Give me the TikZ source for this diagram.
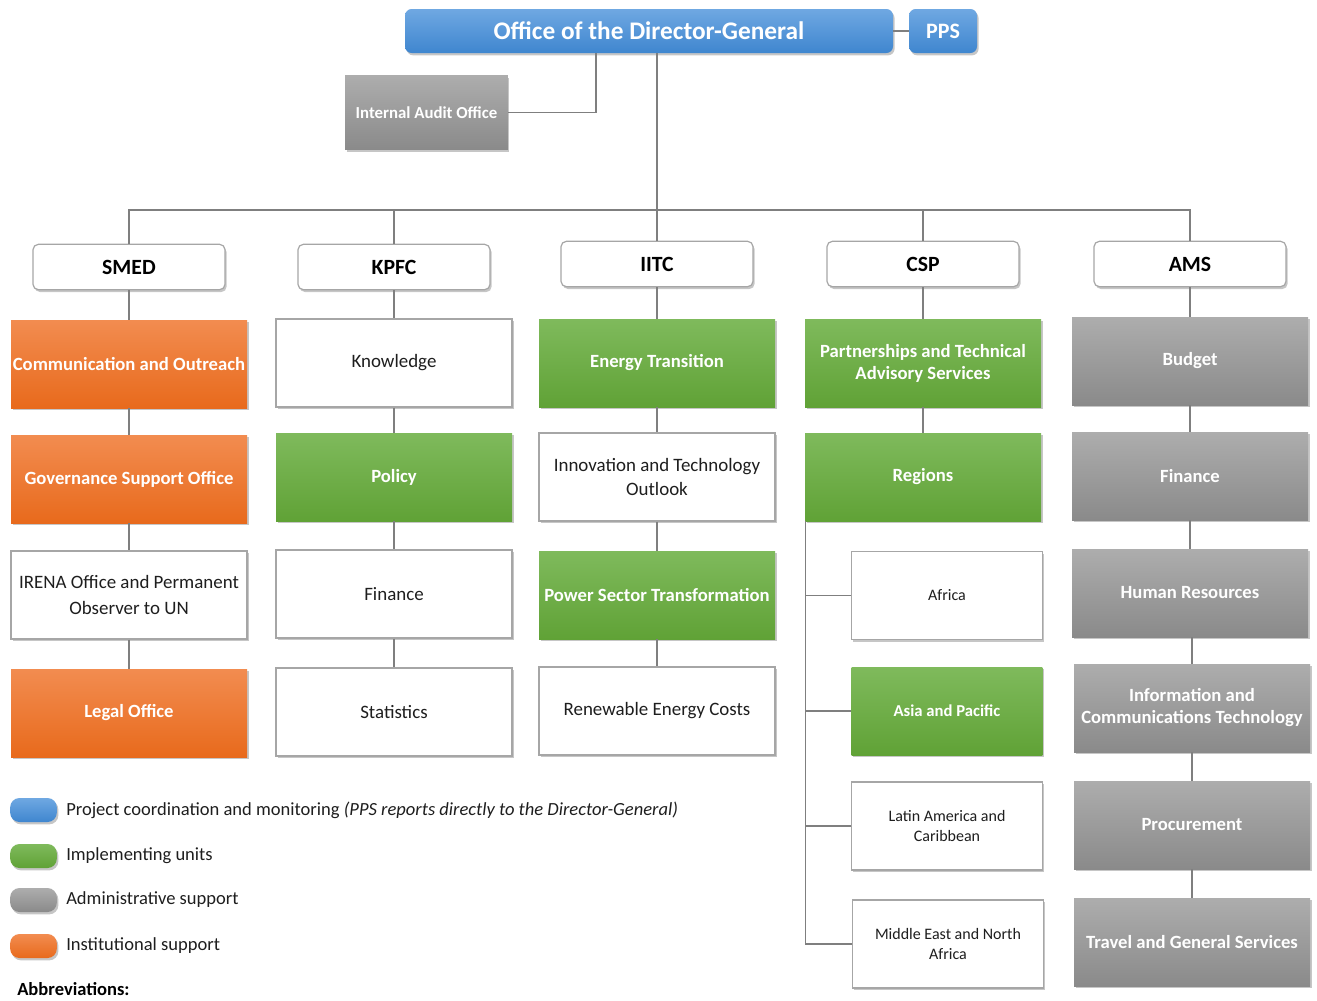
\documentclass[tikz,border=0pt]{standalone}
\usepackage{fontspec}
\setmainfont{Carlito}
\usetikzlibrary{shadows, positioning}

\definecolor{bluetop}{HTML}{6FA8E2}
\definecolor{bluebot}{HTML}{3F86CF}
\definecolor{greentop}{HTML}{7FBA5C}
\definecolor{greenbot}{HTML}{60A236}
\definecolor{graytop}{HTML}{ADADAD}
\definecolor{graybot}{HTML}{8A8A8A}
\definecolor{orangetop}{HTML}{F28C50}
\definecolor{orangebot}{HTML}{E86A1C}
\definecolor{linegray}{HTML}{7F7F7F}
\definecolor{edgegray}{HTML}{A6A6A6}
\definecolor{inkgray}{HTML}{1E1E1E}

\begin{document}
\begin{tikzpicture}
[
	x=0.75pt, y=-0.75pt,
	conn/.style={draw=linegray, line width=0.8pt},
	shade/.style={drop shadow={opacity=0.45, shadow xshift=1.2pt, shadow yshift=-1.8pt}},
	unit/.style={rectangle, shade, minimum width=177pt, minimum height=66pt, inner sep=1pt, align=center},
	orangebox/.style={unit, top color=orangetop, bottom color=orangebot, text=white, font=\fontsize{14}{16.5}\selectfont\bfseries},
	greenbox/.style={unit, top color=greentop, bottom color=greenbot, text=white, font=\fontsize{14}{16.5}\selectfont\bfseries},
	graybox/.style={unit, top color=graytop, bottom color=graybot, text=white, font=\fontsize{14}{16.5}\selectfont\bfseries},
	plainbox/.style={unit, fill=white, draw=edgegray, line width=0.9pt, text=inkgray, font=\fontsize{14.2}{17.5}\selectfont},
	subplain/.style={plainbox, minimum width=143pt, font=\fontsize{12}{15}\selectfont},
	subgreen/.style={greenbox, minimum width=143pt, font=\fontsize{12.5}{15}\selectfont\bfseries},
	hdr/.style={rectangle, rounded corners=4pt, shade, fill=white, draw=edgegray, line width=0.9pt, minimum width=144pt, minimum height=34pt, text=black, font=\fontsize{16.3}{18}\selectfont\bfseries},
	topbox/.style={rectangle, rounded corners=5pt, shade, top color=bluetop, bottom color=bluebot, minimum height=33pt, text=white, font=\fontsize{19}{21}\selectfont\bfseries},
	swatch/.style={rectangle, rounded corners=7pt, shade, minimum width=35pt, minimum height=18pt, inner sep=0pt},
	keytext/.style={anchor=west, inner sep=0pt, text=inkgray, font=\fontsize{13.9}{16}\selectfont}
]

\useasboundingbox (0,0) rectangle (1317,1000);

% top of the chart
\node[topbox, minimum width=366pt] (dg) at (649,31) {Office of the Director-General};
\node[topbox, minimum width=51pt, font=\fontsize{16.5}{18}\selectfont\bfseries] (pps) at (943,31) {PPS};
\node[graybox, minimum width=122pt, minimum height=56pt, font=\fontsize{12.6}{14}\selectfont\bfseries] (iao) at (426.5,112.5) {Internal Audit Office};

% divisions
\node[hdr] (smed) at (129,267) {SMED};
\node[hdr] (kpfc) at (394,267) {KPFC};
\node[hdr] (iitc) at (657,264) {IITC};
\node[hdr] (csp)  at (923,264) {CSP};
\node[hdr] (ams)  at (1190,264) {AMS};

% SMED
\node[orangebox] (comm)  at (129,364) {Communication and Outreach};
\node[orangebox] (gov)   at (129,479) {Governance Support Office};
\node[plainbox]  (irena) at (129,595) {IRENA Office and Permanent\\[1.5pt]Observer to UN};
\node[orangebox] (legal) at (129,713) {Legal Office};

% KPFC
\node[plainbox]  (know)   at (394,363) {Knowledge};
\node[greenbox]  (policy) at (394,477) {Policy};
\node[plainbox]  (kfin)   at (394,594) {Finance};
\node[plainbox]  (stats)  at (394,712) {Statistics};

% IITC
\node[greenbox]  (energy) at (657,363) {Energy Transition};
\node[plainbox]  (itech)  at (657,477) {Innovation and Technology\\Outlook};
\node[greenbox]  (power)  at (657,595) {Power Sector Transformation};
\node[plainbox]  (rcost)  at (657,711) {Renewable Energy Costs};

% CSP
\node[greenbox]  (part)    at (923,363) {Partnerships and Technical\\Advisory Services};
\node[greenbox]  (regions) at (923,477) {Regions};
\node[subplain]  (africa)  at (947,595.5) {Africa};
\node[subgreen]  (asia)    at (947,711) {Asia and Pacific};
\node[subplain]  (latam)   at (947,826) {Latin America and\\Caribbean};
\node[subplain]  (mena)    at (948,944) {Middle East and North\\Africa};

% AMS
\node[graybox] (budget) at (1190,361) {Budget};
\node[graybox] (afin)   at (1190,476) {Finance};
\node[graybox] (hr)     at (1190,593) {Human Resources};
\node[graybox] (ict)    at (1192,708) {Information and\\Communications Technology};
\node[graybox] (proc)   at (1192,825) {Procurement};
\node[graybox] (travel) at (1192,942) {Travel and General Services};

\coordinate (bus) at (657,210);
\coordinate (spine) at ([xshift=0.75pt]regions.south west);

\begin{scope}[on background layer/.try]
\draw[conn] (dg) -- (pps);
\draw[conn] ([xshift=-39.75pt]dg.south) |- (iao.east);
\draw[conn] (dg.south -| iitc.north) -- (iitc.north);
\draw[conn] (smed.north) |- (bus) -| (ams.north);
\draw[conn] (kpfc.north) |- (bus);
\draw[conn] (csp.north) |- (bus);

\draw[conn] (smed) -- (comm) -- (gov) -- (irena) -- (legal);
\draw[conn] (kpfc) -- (know) -- (policy) -- (kfin) -- (stats);
\draw[conn] (iitc) -- (energy) -- (itech) -- (power) -- (rcost);
\draw[conn] (csp) -- (part) -- (regions);
\draw[conn] (ams) -- (budget) -- (afin) -- (hr);
\draw[conn] (hr.south -| ict) -- (ict) -- (proc) -- (travel);

\draw[conn] (spine) |- (mena.west);
\draw[conn] (africa.west) -- (africa.west -| spine);
\draw[conn] (asia.west) -- (asia.west -| spine);
\draw[conn] (latam.west) -- (latam.west -| spine);
\end{scope}

% legend
\node[swatch, top color=bluetop, bottom color=bluebot] (kblue) at (33.5,810) {};
\node[swatch, top color=greentop, bottom color=greenbot] (kgreen) at (33.5,856) {};
\node[swatch, top color=graytop, bottom color=graybot] (kgray) at (33.5,900) {};
\node[swatch, top color=orangetop, bottom color=orangebot] (korange) at (33.5,946) {};

\node[keytext] (tblue) at (66,810) {Project coordination and monitoring \textit{(PPS reports directly to the Director-General)}};
\node[keytext] (tgreen) at (66,856) {Implementing units};
\node[keytext] (tgray) at (66,900) {Administrative support};
\node[keytext] (torange) at (66,946) {Institutional support};

\node[keytext, font=\fontsize{13.9}{16}\selectfont\bfseries, text=black] (abbr) at (17,989) {Abbreviations:};

\end{tikzpicture}
\end{document}
